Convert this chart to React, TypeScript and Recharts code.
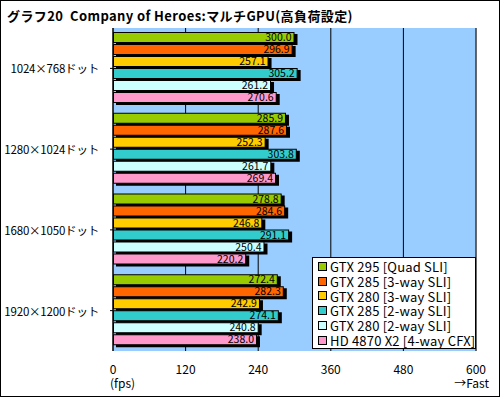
import React from "react";
import { BarChart, Bar, XAxis, YAxis, CartesianGrid, Legend, LabelList, ReferenceLine } from "recharts";

const categories = ["1024×768ドット", "1280×1024ドット", "1680×1050ドット", "1920×1200ドット"];
const seriesNames = [
  "GTX 295 [Quad SLI]",
  "GTX 285 [3-way SLI]",
  "GTX 280 [3-way SLI]",
  "GTX 285 [2-way SLI]",
  "GTX 280 [2-way SLI]",
  "HD 4870 X2 [4-way CFX]",
];
const seriesColors = ["#99CC00", "#FF6600", "#FFCC00", "#33CCCC", "#CCFFFF", "#FF99CC"];

const gtx295Quad = [300.0, 285.9, 278.8, 272.4];
const gtx285Three = [296.9, 287.6, 284.6, 282.3];
const gtx280Three = [257.1, 252.3, 246.8, 242.9];
const gtx285Two = [305.2, 303.8, 291.1, 274.1];
const gtx280Two = [261.2, 261.7, 250.4, 240.8];
const hd4870Cfx = [270.6, 269.4, 220.2, 238.0];

const xTicks = [0, 120, 240, 360, 480, 600];

const seriesValues = [gtx295Quad, gtx285Three, gtx280Three, gtx285Two, gtx280Two, hd4870Cfx];
const data = categories.map((c, i) => {
  const row: any = { name: c };
  seriesValues.forEach((arr, k) => { row["s" + k] = arr[i]; });
  return row;
});

const FONT = "'Noto Sans CJK JP', 'DejaVu Sans', sans-serif";

const ShadowBar = (props: any) => {
  const { x, y, width, height, fill } = props;
  if (!width || width <= 0) return null;
  return (
    <g>
      <rect x={x + 3} y={y + 2} width={width} height={height} fill="#000" />
      <rect x={x + 0.5} y={y + 0.5} width={width - 1} height={height - 1} fill={fill} stroke="#000" strokeWidth={1} />
    </g>
  );
};

const CatTick = (props: any) => {
  const { x, y, payload } = props;
  return (
    <text x={x - 9} y={y} textAnchor="end" dominantBaseline="central" fontSize={11.5} letterSpacing={-0.2} fill="#000" fontFamily={FONT}>
      {payload.value}
    </text>
  );
};

const ValTick = (props: any) => {
  const { x, y, payload } = props;
  return (
    <g>
      <text x={x} y={y + 9} textAnchor="middle" dominantBaseline="central" fontSize={12} fill="#000" fontFamily={FONT}>
        {payload.value}
      </text>
      {payload.value === 0 && (
        <text x={x - 3} y={y + 23} textAnchor="start" dominantBaseline="central" fontSize={12} fill="#000" fontFamily={FONT}>
          (fps)
        </text>
      )}
      {payload.value === 600 && (
        <text x={x + 13} y={y + 23} textAnchor="end" dominantBaseline="central" fontSize={12} fill="#000" fontFamily={FONT}>
          →Fast
        </text>
      )}
    </g>
  );
};

const renderLegend = (props: any) => {
  const items = [...(props.payload || [])].sort(
    (a: any, b: any) => seriesNames.indexOf(a.value) - seriesNames.indexOf(b.value)
  );
  return (
    <div style={{ background: "#fff", border: "1px solid #000", width: 164, height: 92, boxSizing: "border-box", padding: "1px 0 0 5px", textAlign: "left" }}>
      {items.map((p: any, i: number) => (
        <div key={i} style={{ display: "flex", alignItems: "center", height: 14.8, fontSize: 13, letterSpacing: 0.2, fontFamily: FONT, color: "#000", whiteSpace: "nowrap" }}>
          <span style={{ display: "inline-block", width: 7, height: 7, background: p.color, border: "1px solid #000", marginRight: 3, flexShrink: 0 }} />
          {p.value}
        </div>
      ))}
    </div>
  );
};

export default function App() {
  return (
    <div style={{ position: "absolute", left: 0, top: 0, width: 500, height: 397, background: "#fff" }}>
      <div style={{ position: "absolute", left: 7, top: 6, fontSize: 13, fontWeight: "bold", letterSpacing: 0.4, fontFamily: FONT, color: "#000", whiteSpace: "pre" }}>
        {"グラフ20  Company of Heroes:マルチGPU(高負荷設定)"}
      </div>
      <BarChart
        width={500}
        height={397}
        data={data}
        layout="vertical"
        margin={{ top: 28, right: 24, bottom: 0, left: 0 }}
        barCategoryGap={4}
        barGap={1}
      >
        <CartesianGrid horizontal={false} vertical stroke="#000" fill="#99CCFF" fillOpacity={1} />
        <XAxis
          type="number"
          domain={[0, 600]}
          ticks={xTicks}
          axisLine={false}
          tickLine={false}
          tick={<ValTick />}
          height={46}
        />
        <YAxis
          type="category"
          dataKey="name"
          width={113}
          axisLine={{ stroke: "#000" }}
          tickLine={{ stroke: "#000" }}
          tickSize={3}
          tick={<CatTick />}
        />
        <ReferenceLine x={600} stroke="#555" />
        {seriesNames.map((n, k) => (
          <Bar key={n} dataKey={"s" + k} name={n} fill={seriesColors[k]} shape={<ShadowBar />} isAnimationActive={false}>
            <LabelList
              dataKey={"s" + k}
              position="insideRight"
              offset={3}
              formatter={(v: any) => Number(v).toFixed(1)}
              style={{ fontSize: 10.5, fill: "#000", fontFamily: FONT }}
            />
          </Bar>
        ))}
        <Legend
          layout="vertical"
          verticalAlign="middle"
          align="center"
          content={renderLegend}
          wrapperStyle={{ position: "absolute", left: 312, top: 257, width: 164, height: 92 }}
        />
      </BarChart>
      <div style={{ position: "absolute", left: 0, top: 0, width: 500, height: 397, border: "1px solid #000", boxSizing: "border-box", pointerEvents: "none" }} />
    </div>
  );
}
